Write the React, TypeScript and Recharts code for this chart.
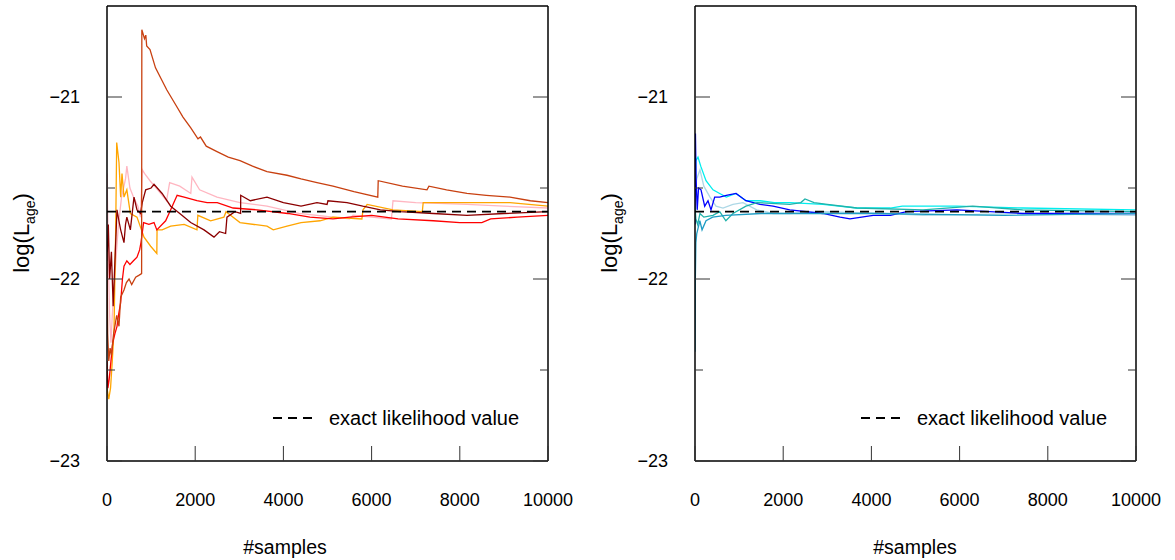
import React from "react";
import { LineChart, Line, XAxis, YAxis, ReferenceLine } from "recharts";

// sample counts on the x axis, log-likelihood estimates on y
const xTicks = [0, 2000, 4000, 6000, 8000, 10000];
const yTicks = [-23, -22.5, -22, -21.5, -21];
const exactValue = -21.63;

// left panel runs
const darkOrangeRun: [number, number][] = [
  [0, -21.85], [15, -22.3], [40, -22.45], [70, -22.38], [100, -22.42], [150, -22.3],
  [220, -22.2], [272, -22.26], [310, -22.1], [385, -22.06], [440, -22.02], [500, -22.0],
  [560, -22.03], [650, -21.99], [720, -21.98], [785, -21.97], [790, -20.63], [850, -20.68],
  [880, -20.66], [900, -20.72], [975, -20.74], [1100, -20.84], [1354, -20.96], [1550, -21.04], [1723, -21.11],
  [1900, -21.17], [2063, -21.23], [2120, -21.22], [2250, -21.27], [2494, -21.3], [2750, -21.33], [3016, -21.35],
  [3300, -21.38], [3628, -21.41], [4082, -21.43], [4400, -21.45], [4762, -21.47], [5125, -21.49],
  [5600, -21.52], [6140, -21.55], [6150, -21.46], [6700, -21.49], [7256, -21.51], [7300, -21.49],
  [7700, -21.51], [8163, -21.53], [8600, -21.54], [9138, -21.55], [9600, -21.57], [10000, -21.58],
];
const pinkRun: [number, number][] = [
  [0, -21.42], [20, -21.7], [40, -22.0], [60, -22.2], [90, -22.35], [120, -22.2], [160, -22.05],
  [200, -21.9], [260, -21.7], [330, -21.55], [420, -21.45], [450, -21.38], [520, -21.5],
  [600, -21.55], [700, -21.6], [760, -21.66], [800, -21.4], [850, -21.42], [975, -21.46],
  [1150, -21.51], [1350, -21.57], [1420, -21.47], [1650, -21.49], [1900, -21.53], [1927, -21.44],
  [2100, -21.51], [2494, -21.55], [3016, -21.58], [3628, -21.6], [4350, -21.64], [5125, -21.66],
  [5500, -21.67], [5580, -21.65], [6000, -21.66], [6450, -21.67], [6485, -21.57], [7000, -21.58],
  [8163, -21.59], [9000, -21.6], [10000, -21.61],
];
const redRun: [number, number][] = [
  [0, -22.45], [20, -22.6], [50, -22.55], [90, -22.45], [130, -22.35], [180, -22.3], [227, -22.26],
  [260, -22.2], [310, -22.13], [350, -22.0], [385, -21.93], [450, -21.9], [520, -21.92],
  [600, -21.9], [680, -21.88], [740, -21.84], [770, -21.8], [830, -21.69], [950, -21.7],
  [1066, -21.69], [1130, -21.73], [1330, -21.68], [1444, -21.62], [1590, -21.54], [1750, -21.55],
  [2040, -21.57], [2270, -21.58], [2500, -21.58], [2860, -21.61], [3400, -21.62], [4100, -21.64],
  [4600, -21.66], [5125, -21.67], [5500, -21.66], [6000, -21.65], [6600, -21.67], [7400, -21.68],
  [8000, -21.69], [8500, -21.69], [8700, -21.67], [9300, -21.66], [10000, -21.65],
];
const darkRedRun: [number, number][] = [
  [0, -21.9], [30, -21.7], [60, -22.0], [100, -21.85], [140, -22.15], [180, -21.9], [227, -21.62],
  [270, -21.68], [310, -21.73], [385, -21.8], [420, -21.7], [450, -21.66], [530, -21.73],
  [612, -21.55], [680, -21.62], [760, -21.64], [800, -21.58], [877, -21.51], [1000, -21.5],
  [1066, -21.48], [1250, -21.53], [1444, -21.6], [1650, -21.64], [1898, -21.69], [2200, -21.73],
  [2426, -21.77], [2550, -21.74], [2690, -21.75], [2720, -21.66], [2900, -21.63], [3030, -21.64],
  [3032, -21.54], [3250, -21.57], [3628, -21.55], [4000, -21.58], [4400, -21.6], [4762, -21.58],
  [4990, -21.59], [5010, -21.57], [5442, -21.58], [5800, -21.6], [6200, -21.62], [6650, -21.63],
  [7400, -21.64], [8163, -21.65], [9000, -21.64], [10000, -21.63],
];
const orangeRun: [number, number][] = [
  [0, -22.6], [40, -22.66], [80, -22.6], [120, -22.45], [159, -22.28], [197, -21.73], [220, -21.25],
  [272, -21.36], [310, -21.55], [340, -21.42], [385, -21.55], [450, -21.51], [530, -21.64],
  [680, -21.66], [840, -21.77], [990, -21.82], [1130, -21.86], [1135, -21.73], [1250, -21.73],
  [1444, -21.71], [1750, -21.7], [2040, -21.73], [2060, -21.65], [2350, -21.68], [2650, -21.66],
  [2700, -21.63], [2750, -21.64], [3016, -21.69], [3628, -21.71], [3770, -21.73], [4082, -21.71],
  [4400, -21.69], [4830, -21.68], [5125, -21.66], [5780, -21.67], [5805, -21.62], [5900, -21.59],
  [6485, -21.62], [7150, -21.63], [7170, -21.58], [7800, -21.58], [8400, -21.58], [9138, -21.58],
  [10000, -21.6],
];

// right panel runs
const blueRun: [number, number][] = [
  [0, -21.7], [10, -21.2], [25, -21.45], [50, -21.62], [80, -21.5], [136, -21.51], [220, -21.6],
  [295, -21.57], [363, -21.62], [446, -21.55], [560, -21.55], [710, -21.54], [930, -21.53],
  [1156, -21.57], [1474, -21.59], [1770, -21.6], [2150, -21.62], [2900, -21.64], [3290, -21.66],
  [3515, -21.67], [4040, -21.65], [4430, -21.65], [4800, -21.63], [5940, -21.62], [7430, -21.64],
  [8950, -21.64], [10000, -21.64],
];
const cyanRun: [number, number][] = [
  [0, -21.55], [20, -21.35], [68, -21.33], [130, -21.38], [250, -21.46], [408, -21.51],
  [560, -21.53], [710, -21.55], [930, -21.53], [1156, -21.57], [1474, -21.57], [1800, -21.58],
  [2150, -21.58], [2900, -21.59], [3670, -21.61], [4430, -21.61], [4700, -21.6], [5940, -21.6],
  [7430, -21.61], [10000, -21.62],
];
const lightBlueRun: [number, number][] = [
  [0, -21.5], [40, -21.45], [113, -21.4], [200, -21.49], [340, -21.55], [476, -21.6], [635, -21.61],
  [860, -21.59], [1088, -21.58], [1400, -21.62], [1770, -21.64], [2150, -21.64], [2900, -21.63],
  [4430, -21.64], [5170, -21.65], [7430, -21.64], [10000, -21.65],
];
const seaGreenRun: [number, number][] = [
  [0, -21.6], [20, -21.67], [60, -21.7], [113, -21.64], [200, -21.66], [408, -21.65], [560, -21.63],
  [700, -21.68], [860, -21.64], [1156, -21.6], [1406, -21.58], [2150, -21.59], [2400, -21.58],
  [2494, -21.56], [2700, -21.58], [3000, -21.59], [3670, -21.61], [5170, -21.62], [6300, -21.6],
  [7430, -21.62], [10000, -21.63],
];
const tealRun: [number, number][] = [
  [0, -22.4], [8, -22.0], [20, -21.8], [40, -21.75], [70, -21.72], [110, -21.68], [160, -21.73],
  [250, -21.68], [400, -21.66], [700, -21.65], [1500, -21.64], [4000, -21.64], [7000, -21.65],
  [10000, -21.64],
];

const leftRuns = [
  { data: pinkRun, color: "#ffb6c1" },
  { data: orangeRun, color: "#ffa500" },
  { data: redRun, color: "#ff0000" },
  { data: darkRedRun, color: "#8b0000" },
  { data: darkOrangeRun, color: "#c84010" },
];
const rightRuns = [
  { data: lightBlueRun, color: "#add8e6" },
  { data: cyanRun, color: "#00eeee" },
  { data: blueRun, color: "#0000ff" },
  { data: seaGreenRun, color: "#20b2aa" },
  { data: tealRun, color: "#1e9cc4" },
];

const W = 587;
const H = 560;
const PL = 107;
const PR = 548;
const PT = 6;
const PB = 461;
const FONT = "'Liberation Sans', Arial, sans-serif";

const fmtY = (v: number) => (v < 0 ? "\u2212" + Math.abs(v) : String(v));

const LeftTick = (p: any) => {
  const major = Number.isInteger(p.payload.value);
  return (
    <g>
      <line x1={PL} x2={PL + (major ? 15 : 8)} y1={p.y} y2={p.y} stroke="#333" />
      {major && (
        <text x={80} y={p.y} dy="0.36em" textAnchor="end" fontSize={18} fill="#000" fontFamily={FONT}>
          {fmtY(p.payload.value)}
        </text>
      )}
    </g>
  );
};
const RightTick = (p: any) => {
  const major = Number.isInteger(p.payload.value);
  return <line x1={PR - (major ? 15 : 8)} x2={PR} y1={p.y} y2={p.y} stroke="#333" />;
};
const BottomTick = (p: any) => (
  <g>
    <line x1={p.x} x2={p.x} y1={PB} y2={PB - 15} stroke="#333" />
    <text x={p.x} y={506} textAnchor="middle" fontSize={18} fill="#000" fontFamily={FONT}>
      {p.payload.value}
    </text>
  </g>
);
const TopTick = (p: any) => <line x1={p.x} x2={p.x} y1={PT} y2={PT + 15} stroke="#333" />;

function Panel({ runs, xLabelX }: { runs: { data: [number, number][]; color: string }[]; xLabelX: number }) {
  return (
    <div style={{ position: "relative", width: W, height: H }}>
      <LineChart width={W} height={H} margin={{ top: PT - 1, right: W - PR - 1, bottom: 0, left: 0 }}>
        <XAxis xAxisId="b" type="number" dataKey="x" domain={[0, 10000]} ticks={xTicks} allowDataOverflow
          height={H - PB} axisLine={{ stroke: "#000", strokeWidth: 1.5 }} tickLine={false} tick={<BottomTick />} interval={0} />
        <XAxis xAxisId="t" orientation="top" type="number" domain={[0, 10000]} ticks={xTicks} allowDataOverflow
          height={1} axisLine={{ stroke: "#000", strokeWidth: 1.5 }} tickLine={false} tick={<TopTick />} interval={0} />
        <YAxis yAxisId="l" type="number" domain={[-23, -20.5]} ticks={yTicks} allowDataOverflow
          width={PL} axisLine={{ stroke: "#000", strokeWidth: 1.5 }} tickLine={false} tick={<LeftTick />} interval={0} />
        <YAxis yAxisId="r" orientation="right" type="number" domain={[-23, -20.5]} ticks={yTicks} allowDataOverflow
          width={1} axisLine={{ stroke: "#000", strokeWidth: 1.5 }} tickLine={false} tick={<RightTick />} interval={0} />
        {runs.map((r, i) => (
          <Line key={i} xAxisId="b" yAxisId="l" data={r.data.map(([x, y]) => ({ x, y }))} dataKey="y"
            type="linear" stroke={r.color} strokeWidth={1.3} dot={false} isAnimationActive={false} />
        ))}
        <ReferenceLine xAxisId="b" yAxisId="l" y={exactValue} stroke="#000" strokeWidth={1.8} strokeDasharray="9 6" />
      </LineChart>
      <svg width={W} height={H} style={{ position: "absolute", left: 0, top: 0, pointerEvents: "none" }}>
        <text transform="translate(29,233) rotate(-90)" textAnchor="middle" fontSize={22} fontFamily={FONT}>
          log(L<tspan fontSize={14} dy={6}>age</tspan><tspan dy={-6}>)</tspan>
        </text>
        <text x={xLabelX} y={554} textAnchor="middle" fontSize={19.5} fontFamily={FONT}>#samples</text>
        <line x1={273} x2={312} y1={418} y2={418} stroke="#000" strokeWidth={1.8} strokeDasharray="9 6" />
        <text x={329} y={418} dy="0.36em" fontSize={20} fontFamily={FONT}>exact likelihood value</text>
      </svg>
    </div>
  );
}

export default function App() {
  return (
    <div style={{ position: "absolute", left: 0, top: 0, width: 1175, height: 560, background: "#fff", display: "flex" }}>
      <div style={{ width: 588 }}>
        <Panel runs={leftRuns} xLabelX={285} />
      </div>
      <Panel runs={rightRuns} xLabelX={327} />
    </div>
  );
}
